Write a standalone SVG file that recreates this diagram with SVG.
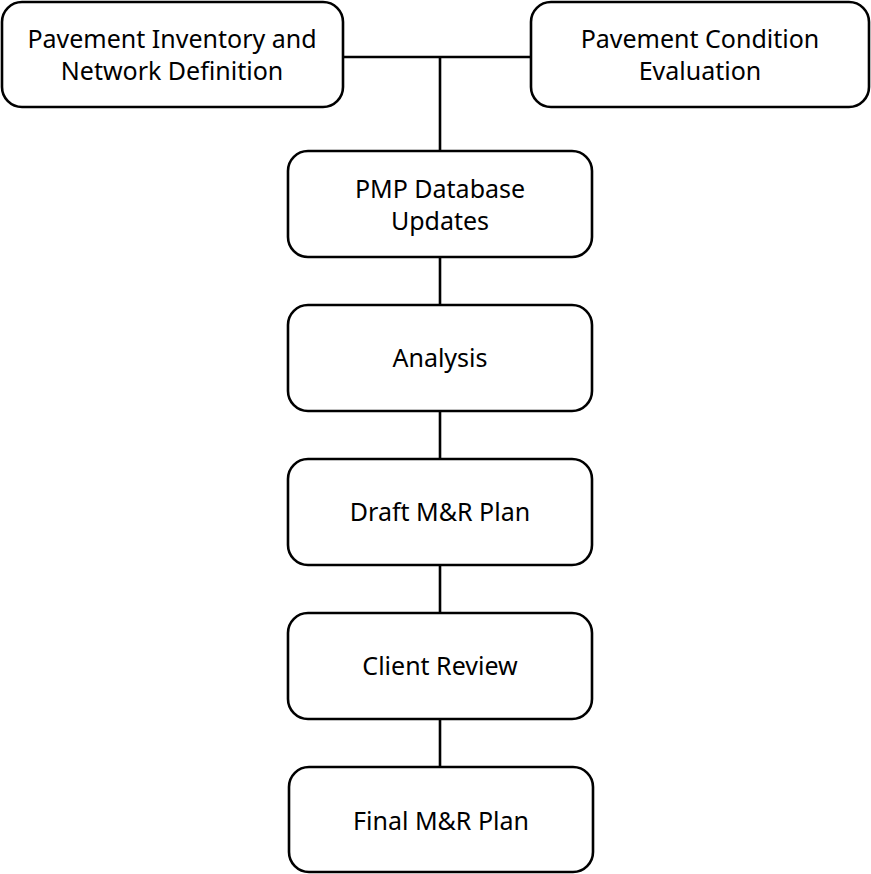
<svg xmlns="http://www.w3.org/2000/svg" width="871" height="874" viewBox="0 0 871 874">
  <style>
    .box { fill: #ffffff; stroke: #000000; stroke-width: 2.6; }
    .lbl { font-family: "Noto Sans", "Open Sans", sans-serif; font-size: 25px; fill: #000000; text-anchor: middle; }
    .wire { fill: none; stroke: #000000; stroke-width: 2.6; }
  </style>
  <rect width="871" height="874" fill="#ffffff"/>
  <g id="connectors">
    <path class="wire" d="M343 57 H530"/>
    <path class="wire" d="M440 57 V151"/>
    <path class="wire" d="M440 257 V305"/>
    <path class="wire" d="M440 411 V459"/>
    <path class="wire" d="M440 565 V613"/>
    <path class="wire" d="M440 719 V767"/>
  </g>
  <g id="inventory">
    <rect class="box" x="2" y="2" width="341" height="105" rx="20"/>
    <text class="lbl" x="172" y="48">Pavement Inventory and</text>
    <text class="lbl" x="172" y="80">Network Definition</text>
  </g>
  <g id="condition">
    <rect class="box" x="531" y="2" width="338" height="105" rx="20"/>
    <text class="lbl" x="700" y="48">Pavement Condition</text>
    <text class="lbl" x="700" y="80">Evaluation</text>
  </g>
  <g id="database">
    <rect class="box" x="288" y="151" width="304" height="106" rx="20"/>
    <text class="lbl" x="440" y="198">PMP Database</text>
    <text class="lbl" x="440" y="230">Updates</text>
  </g>
  <g id="analysis">
    <rect class="box" x="288" y="305" width="304" height="106" rx="20"/>
    <text class="lbl" x="440" y="367">Analysis</text>
  </g>
  <g id="draft">
    <rect class="box" x="288" y="459" width="304" height="106" rx="20"/>
    <text class="lbl" x="440" y="521">Draft M&amp;R Plan</text>
  </g>
  <g id="review">
    <rect class="box" x="288" y="613" width="304" height="106" rx="20"/>
    <text class="lbl" x="440" y="675">Client Review</text>
  </g>
  <g id="final">
    <rect class="box" x="289" y="767" width="304" height="105" rx="20"/>
    <text class="lbl" x="441" y="830">Final M&amp;R Plan</text>
  </g>
</svg>
